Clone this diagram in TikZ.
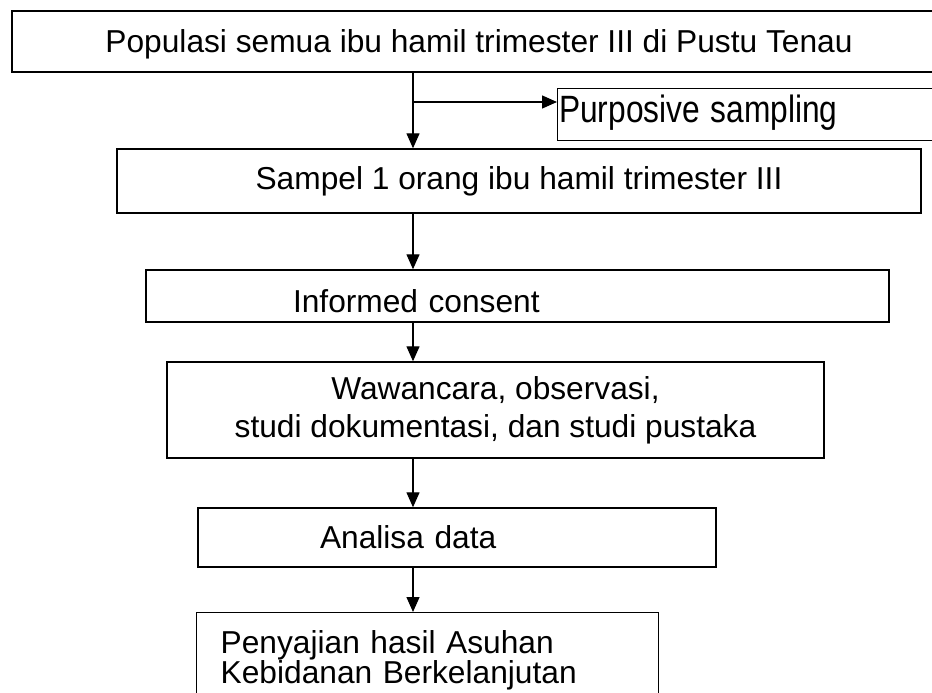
\documentclass[tikz,border=0pt]{standalone}
\usepackage{fontspec}
\setmainfont{Liberation Sans}
\usetikzlibrary{arrows.meta,positioning}

\tikzset{kotak/.style={draw,rectangle,line width=1.4pt,inner sep=0pt}}

\begin{document}
\begin{tikzpicture}[x=1pt,y=-1pt,line width=1.3pt,>={Triangle[length=15pt,width=13pt]},font=\fontsize{31.7}{38}\selectfont]
\clip (0,0) rectangle (932,693);
\node[kotak,minimum width=934pt,minimum height=61pt,text depth=0pt](populasi) at (479,41.5) {Populasi semua ibu hamil trimester III di Pustu Tenau};
\node[kotak,anchor=north west,inner xsep=1.5pt,inner ysep=2pt,text height=32pt,text depth=16pt,text width=420pt,align=left](purposive) at (557,88) {\scalebox{1}[1.2]{Purposive sampling}};
\node[kotak,minimum width=804pt,minimum height=64pt](sampel) at (519,181) {Sampel 1 orang ibu hamil trimester III};
\node[kotak,minimum width=743pt,minimum height=52pt,text width=743pt,align=left,text height=32pt,text depth=0pt](consent) at (517.5,296) {\hspace*{147pt}Informed consent};
\node[kotak,minimum width=657pt,minimum height=96pt,align=center](wawancara) at (495.5,410) {Wawancara, observasi,\\studi dokumentasi, dan studi pustaka};
\node[kotak,minimum width=518pt,minimum height=59pt,text width=518pt,align=left](analisa) at (457,537.5) {\hspace*{122pt}Analisa data};
\node[kotak,anchor=north west,inner xsep=24pt,inner ysep=18pt,text width=414pt,align=left,font=\fontsize{31.7}{30}\selectfont](penyajian) at (196,612) {Penyajian hasil Asuhan\\Kebidanan Berkelanjutan};
\coordinate (kolom) at (413,0);
\coordinate (cabang) at ([yshift=-14pt]purposive.north west);
\draw[->] (populasi.south -| kolom) -- (sampel.north -| kolom);
\draw[->] (kolom |- cabang) -- (cabang);
\draw[->] (sampel.south -| kolom) -- (consent.north -| kolom);
\draw[->] (consent.south -| kolom) -- (wawancara.north -| kolom);
\draw[->] (wawancara.south -| kolom) -- (analisa.north -| kolom);
\draw[->] (analisa.south -| kolom) -- (penyajian.north -| kolom);
\end{tikzpicture}
\end{document}
